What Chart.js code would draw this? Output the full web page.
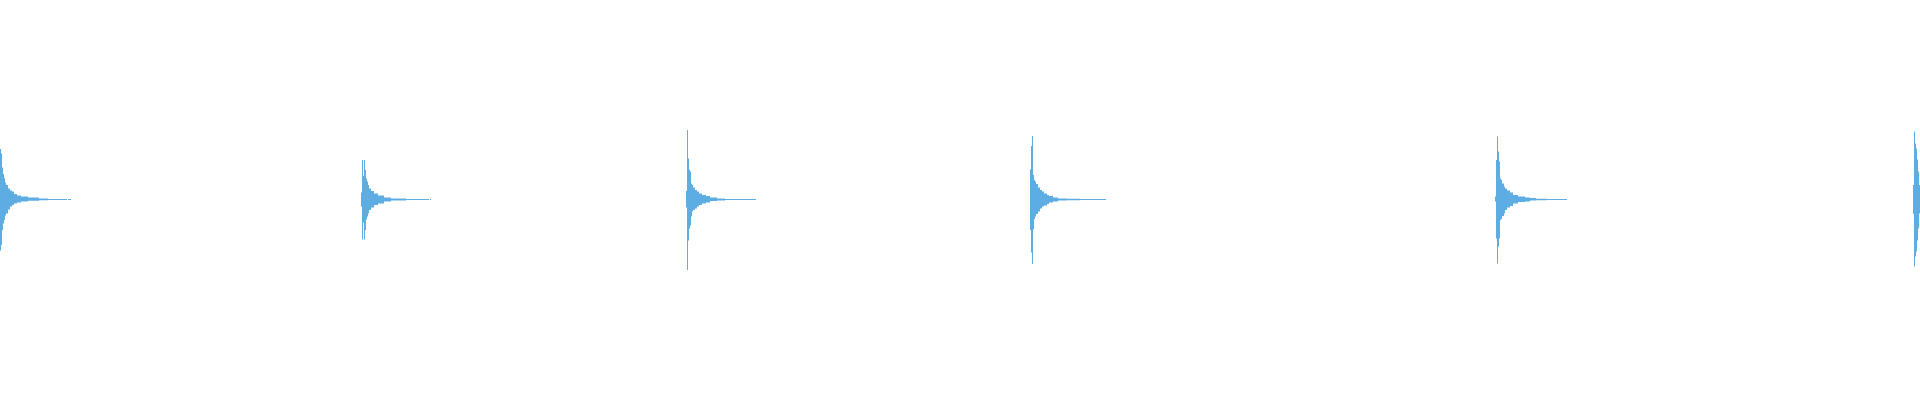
<!DOCTYPE html>
<html>
<head>
<meta charset="utf-8">
<script src="https://cdn.jsdelivr.net/npm/chart.js"></script>
<style>
  html, body { margin: 0; padding: 0; background: #fff; }
  #wrap { width: 1920px; height: 400px; position: relative; }
</style>
</head>
<body>
<div id="wrap"><canvas id="wave"></canvas></div>
<script>
// start time of every hit (x axis = sample position)
const burstStarts = [0, 361, 686, 1030, 1495, 1913];

// per hit: offsets from the start, upper and lower envelope (amplitude, %)
const burst1Offsets = [0, 1, 2, 3, 4, 5, 6, 8, 10, 12, 14, 17, 21, 28, 39, 48, 67, 68, 71];
const burst1Top     = [25.3, 23, 16, 12.8, 10.8, 8.5, 7.3, 5.5, 4.5, 4, 2.8, 2, 1.5, 1, 0.5, 0.25, 0, 0.25, 0.25];
const burst1Bottom  = [-25.5, -22.8, -15.3, -12, -10.3, -8, -7, -5, -3.5, -2.8, -2, -1.5, -1, -0.6, -0.35, -0.25, 0, -0.25, -0.25];

const burst2Offsets = [0, 1, 2, 3, 4, 5, 6, 7, 8, 10, 13, 17, 23, 30, 45, 68, 69, 70];
const burst2Top     = [3.5, 19.8, 11.8, 19.8, 14.8, 10.5, 9, 7.3, 5.5, 4.3, 3, 2, 1, 0.5, 0.25, 0, 0.25, 0.25];
const burst2Bottom  = [-3.5, -20, -11.5, -20, -15.3, -10, -8.5, -7, -5.3, -4, -2.8, -2, -1, -0.5, -0.25, 0, -0.25, -0.25];

const burst3Offsets = [0, 1, 2, 3, 4, 5, 6, 7, 9, 11, 13, 16, 20, 24, 31, 39, 70];
const burst3Top     = [4.3, 34.8, 20.5, 15, 14, 8, 7.3, 6, 4.8, 4, 3, 2.3, 1.8, 1, 0.5, 0.25, 0.25];
const burst3Bottom  = [-4, -35.3, -20.5, -14.5, -13, -8.5, -6, -5.3, -4.5, -3.5, -2.8, -2, -1.5, -0.8, -0.5, -0.25, -0.25];

const burst4Offsets = [0, 1, 2, 3, 4, 5, 6, 8, 10, 12, 14, 17, 19, 23, 28, 37, 50, 76];
const burst4Top     = [15, 26.8, 31.8, 12.3, 9.8, 9, 7.8, 6, 4.8, 4, 3, 2.3, 1.8, 1, 0.5, 0.35, 0.25, 0.25];
const burst4Bottom  = [-15.3, -26.5, -32.3, -15, -9.8, -8.5, -7.3, -6, -4.5, -3.5, -3, -2.3, -1.5, -1, -0.5, -0.35, -0.25, -0.25];

const burst5Offsets = [0, 1, 2, 3, 4, 5, 6, 7, 9, 10, 12, 15, 18, 23, 30, 35, 41, 52, 72];
const burst5Top     = [1.5, 19.8, 31.5, 24, 19, 10.5, 9.8, 8, 6.5, 5.5, 4.5, 3.5, 2.3, 1.5, 1, 0.8, 0.35, 0.25, 0.25];
const burst5Bottom  = [-1, -19.5, -32, -23.5, -19.5, -10.3, -9.8, -8.3, -7, -5.3, -4, -3.3, -2, -1.3, -1, -0.5, -0.35, -0.25, -0.25];

const burst6Offsets = [0, 1, 2, 3, 4, 5, 6, 7];
const burst6Top     = [7.3, 34, 28, 25.5, 20, 14, 7.3, 7.3];
const burst6Bottom  = [-7.3, -33.5, -28.5, -26, -20.5, -14.5, -7, -7];

const bursts = [
  [burst1Offsets, burst1Top, burst1Bottom],
  [burst2Offsets, burst2Top, burst2Bottom],
  [burst3Offsets, burst3Top, burst3Bottom],
  [burst4Offsets, burst4Top, burst4Bottom],
  [burst5Offsets, burst5Top, burst5Bottom],
  [burst6Offsets, burst6Top, burst6Bottom]
];

// build point lists, a null point after each hit breaks the line
const topPoints = [];
const bottomPoints = [];
bursts.forEach(([offs, top, bottom], i) => {
  const start = burstStarts[i];
  offs.forEach((o, j) => {
    topPoints.push({ x: start + o, y: top[j] });
    bottomPoints.push({ x: start + o, y: bottom[j] });
  });
  const endX = start + offs[offs.length - 1] + 0.5;
  topPoints.push({ x: endX, y: null });
  bottomPoints.push({ x: endX, y: null });
});

const waveColor = '#5DADE2';

new Chart(document.getElementById('wave').getContext('2d'), {
  type: 'line',
  data: {
    datasets: [
      { data: topPoints, stepped: true, fill: '+1', backgroundColor: waveColor, borderWidth: 0, pointRadius: 0, spanGaps: false },
      { data: bottomPoints, stepped: true, fill: false, backgroundColor: waveColor, borderWidth: 0, pointRadius: 0, spanGaps: false }
    ]
  },
  options: {
    responsive: true,
    maintainAspectRatio: false,
    animation: false,
    layout: { padding: 0 },
    plugins: { legend: { display: false }, tooltip: { enabled: false } },
    scales: {
      x: { type: 'linear', min: 0, max: 1920, display: false },
      y: { min: -100.25, max: 99.75, display: false }
    }
  }
});
</script>
</body>
</html>
